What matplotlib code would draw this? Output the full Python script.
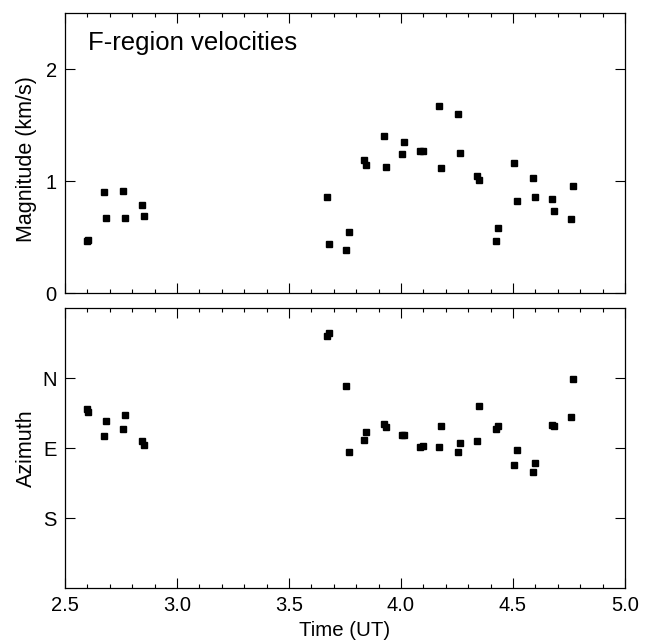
import matplotlib
matplotlib.use("Agg")
import matplotlib.pyplot as plt
from matplotlib.ticker import MultipleLocator

plt.rcParams['font.family'] = ['Liberation Sans', 'DejaVu Sans']

# time of each measurement (UT hours), shared by both panels
time = [2.597, 2.605, 2.676, 2.684, 2.759, 2.768, 2.843, 2.854,
        3.669, 3.678, 3.753, 3.766, 3.835, 3.845, 3.922, 3.933,
        4.006, 4.013, 4.085, 4.097, 4.170, 4.178, 4.255, 4.263,
        4.340, 4.349, 4.423, 4.432, 4.506, 4.516, 4.590, 4.600,
        4.674, 4.683, 4.760, 4.769]

# velocity magnitude (km/s)
magnitude = [0.46, 0.47, 0.90, 0.67, 0.91, 0.67, 0.79, 0.685,
             0.854, 0.435, 0.387, 0.547, 1.185, 1.146, 1.402, 1.125,
             1.241, 1.351, 1.268, 1.268, 1.667, 1.119, 1.598, 1.253,
             1.042, 1.006, 0.464, 0.577, 1.158, 0.821, 1.024, 0.860,
             0.836, 0.732, 0.661, 0.955]

# azimuth in degrees, E = 0, N = 90, S = -90
azimuth = [50.4, 45.7, 15.5, 34.3, 24.5, 42.4, 9.6, 4.5,
           144.5, 148.3, 80.2, -4.9, 10.0, 21.1, 30.4, 26.6,
           16.8, 16.5, 1.0, 2.8, 1.0, 28.7, -5.7, 6.6,
           9.2, 54.3, 24.0, 28.7, -21.5, -2.3, -30.4, -19.8,
           30.0, 28.7, 39.8, 88.7]

x_ticks = [2.5, 3.0, 3.5, 4.0, 4.5, 5.0]
x_labels = ["2.5", "3.0", "3.5", "4.0", "4.5", "5.0"]
az_ticks = [90, 0, -90]
az_labels = ["N", "E", "S"]

fig = plt.figure(figsize=(6.53, 6.42), dpi=100)
ax1 = fig.add_axes([0.0995, 0.5436, 0.8576, 0.4361])
ax2 = fig.add_axes([0.0995, 0.0841, 0.8576, 0.4361])

for ax in (ax1, ax2):
    ax.set_xlim(2.5, 5.0)
    ax.set_xticks(x_ticks)
    ax.xaxis.set_minor_locator(MultipleLocator(0.1))
    ax.tick_params(which='both', direction='in', top=True, right=True,
                   labelsize=14.5, width=0.8)
    ax.tick_params(which='major', length=7, pad=6)
    ax.tick_params(axis='x', which='minor', length=3)
    ax.tick_params(axis='y', which='minor', length=0)
    for s in ax.spines.values():
        s.set_linewidth(0.9)

ax1.plot(time, magnitude, 's', color='black', markersize=5)
ax1.set_ylim(0, 2.5)
ax1.set_yticks([0, 1, 2])
ax1.tick_params(axis='x', labelbottom=False)
ax1.set_ylabel("Magnitude (km/s)", fontsize=15.5)
ax1.yaxis.set_label_coords(-0.05, 0.48)
ax1.text(0.041, 0.868, "F-region velocities", transform=ax1.transAxes,
         fontsize=18.5, ha='left', va='baseline')

ax2.plot(time, azimuth, 's', color='black', markersize=5)
ax2.set_ylim(-180, 180)
ax2.set_yticks(az_ticks)
ax2.set_yticklabels(az_labels)
ax2.set_xticklabels(x_labels)
ax2.set_ylabel("Azimuth", fontsize=15.5)
ax2.yaxis.set_label_coords(-0.05, 0.5)
ax2.set_xlabel("Time (UT)", fontsize=14.7)
ax2.xaxis.set_label_coords(0.5, -0.118)

fig.savefig("out.png", dpi=100)
